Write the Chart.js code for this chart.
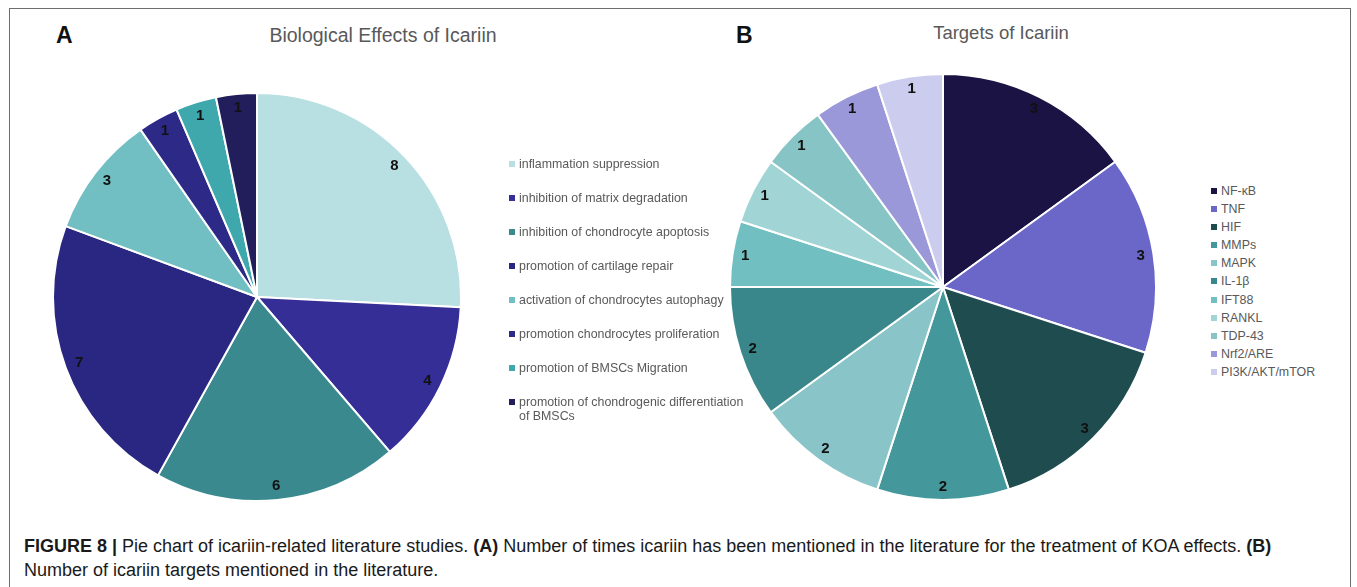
<!DOCTYPE html>
<html>
<head>
<meta charset="utf-8">
<script src="https://cdn.jsdelivr.net/npm/chart.js@4"></script>
<style>
  body { margin: 0; background: #fff; width: 1357px; height: 587px; overflow: hidden; position: relative; font-family: "Liberation Sans", Arial, sans-serif; }
  #frame { position: absolute; left: 9px; top: 8px; width: 1340px; height: 600px; border: 1px solid #6e6e6e; }
  .panel-letter { position: absolute; font-weight: bold; font-size: 23px; color: #111; }
  .title { position: absolute; font-size: 19.5px; color: #595959; transform: translateX(-50%); white-space: nowrap; }
  .chartbox { position: absolute; }
  .legend { position: absolute; margin: 0; padding: 0; list-style: none; font-size: 12.4px; color: #595959; }
  .legend li { position: relative; padding-left: 10px; white-space: nowrap; line-height: 14px; }
  .legend li span.sw { position: absolute; left: 0; top: 4px; width: 6px; height: 6px; }
  #caption { position: absolute; left: 24px; top: 534px; font-size: 18px; color: #1a1a1a; line-height: 24px; white-space: nowrap; }
</style>
</head>
<body>
<div id="frame"></div>

<div class="panel-letter" style="left:56px; top:22px;">A</div>
<div class="panel-letter" style="left:736px; top:22px;">B</div>
<div class="title" style="left:383px; top:24px;">Biological Effects of Icariin</div>
<div class="title" style="left:1001px; top:22px; font-size:18.5px;">Targets of Icariin</div>

<div class="chartbox" style="left:52px; top:92px; width:410px; height:410px;"><canvas id="pieA"></canvas></div>
<div class="chartbox" style="left:729px; top:73px; width:428px; height:428px;"><canvas id="pieB"></canvas></div>

<ul class="legend" id="legendA" style="left:509px; top:157px;"></ul>
<ul class="legend" id="legendB" style="left:1211px; top:184px;"></ul>

<div id="caption">
  <b>FIGURE 8 |</b> Pie chart of icariin-related literature studies. <b>(A)</b> Number of times icariin has been mentioned in the literature for the treatment of KOA effects. <b>(B)</b><br>
  Number of icariin targets mentioned in the literature.
</div>

<script>
// panel A - biological effects
const effectLabels = [
    'inflammation suppression',
    'inhibition of matrix degradation',
    'inhibition of chondrocyte apoptosis',
    'promotion of cartilage repair',
    'activation of chondrocytes autophagy',
    'promotion chondrocytes proliferation',
    'promotion of BMSCs Migration',
    'promotion of chondrogenic differentiation\nof BMSCs'
];
const effectCounts = [8, 4, 6, 7, 3, 1, 1, 1];
const effectColors = ['#b8dfe2', '#352e97', '#3a898e', '#2a2783', '#72bfc3', '#2d2a87', '#3ea8ad', '#221e5c'];

// panel B - targets
const targetLabels = ['NF-\u03baB', 'TNF', 'HIF', 'MMPs', 'MAPK', 'IL-1\u03b2', 'IFT88', 'RANKL', 'TDP-43', 'Nrf2/ARE', 'PI3K/AKT/mTOR'];
const targetCounts = [3, 3, 3, 2, 2, 2, 1, 1, 1, 1, 1];
const targetColors = ['#1a1343', '#6b67c9', '#1f4c4f', '#44979a', '#89c5c8', '#3a878b', '#72bfc2', '#a0d4d5', '#87c4c6', '#9b98da', '#ccccee'];

// draws the count inside each slice, near the rim
const sliceLabels = {
    id: 'sliceLabels',
    afterDatasetsDraw(chart, args, opts) {
        const ctx = chart.ctx;
        const meta = chart.getDatasetMeta(0);
        const values = chart.data.datasets[0].data;
        ctx.save();
        ctx.font = 'bold 15px "Liberation Sans", Arial, sans-serif';
        ctx.fillStyle = '#111';
        ctx.textAlign = 'center';
        ctx.textBaseline = 'middle';
        meta.data.forEach((arc, i) => {
            const p = arc.getProps(['x', 'y', 'startAngle', 'endAngle', 'outerRadius'], true);
            const mid = (p.startAngle + p.endAngle) / 2;
            const r = p.outerRadius * opts.ratio;
            ctx.fillText(values[i], p.x + Math.cos(mid) * r, p.y + Math.sin(mid) * r);
        });
        ctx.restore();
    }
};

function makePie(id, labels, values, colors, ratio)
{
    return new Chart(document.getElementById(id), {
        type: 'pie',
        data: {
            labels: labels,
            datasets: [{
                data: values,
                backgroundColor: colors,
                borderColor: '#ffffff',
                borderWidth: 2
            }]
        },
        options: {
            responsive: true,
            maintainAspectRatio: false,
            animation: false,
            layout: { padding: 0 },
            plugins: {
                legend: { display: false },
                tooltip: { enabled: false },
                sliceLabels: { ratio: ratio }
            }
        },
        plugins: [sliceLabels]
    });
}

function makeLegend(id, labels, colors, rowGap)
{
    const ul = document.getElementById(id);
    labels.forEach((lab, i) => {
        const li = document.createElement('li');
        li.style.marginBottom = rowGap + 'px';
        const sw = document.createElement('span');
        sw.className = 'sw';
        sw.style.background = colors[i];
        li.appendChild(sw);
        lab.split('\n').forEach((part, k) => {
            if (k > 0) li.appendChild(document.createElement('br'));
            li.appendChild(document.createTextNode(part));
        });
        ul.appendChild(li);
    });
}

makePie('pieA', effectLabels, effectCounts, effectColors, 0.93);
makePie('pieB', targetLabels, targetCounts, targetColors, 0.94);
makeLegend('legendA', effectLabels, effectColors, 20);
makeLegend('legendB', targetLabels, targetColors, 4.1);
</script>
</body>
</html>
